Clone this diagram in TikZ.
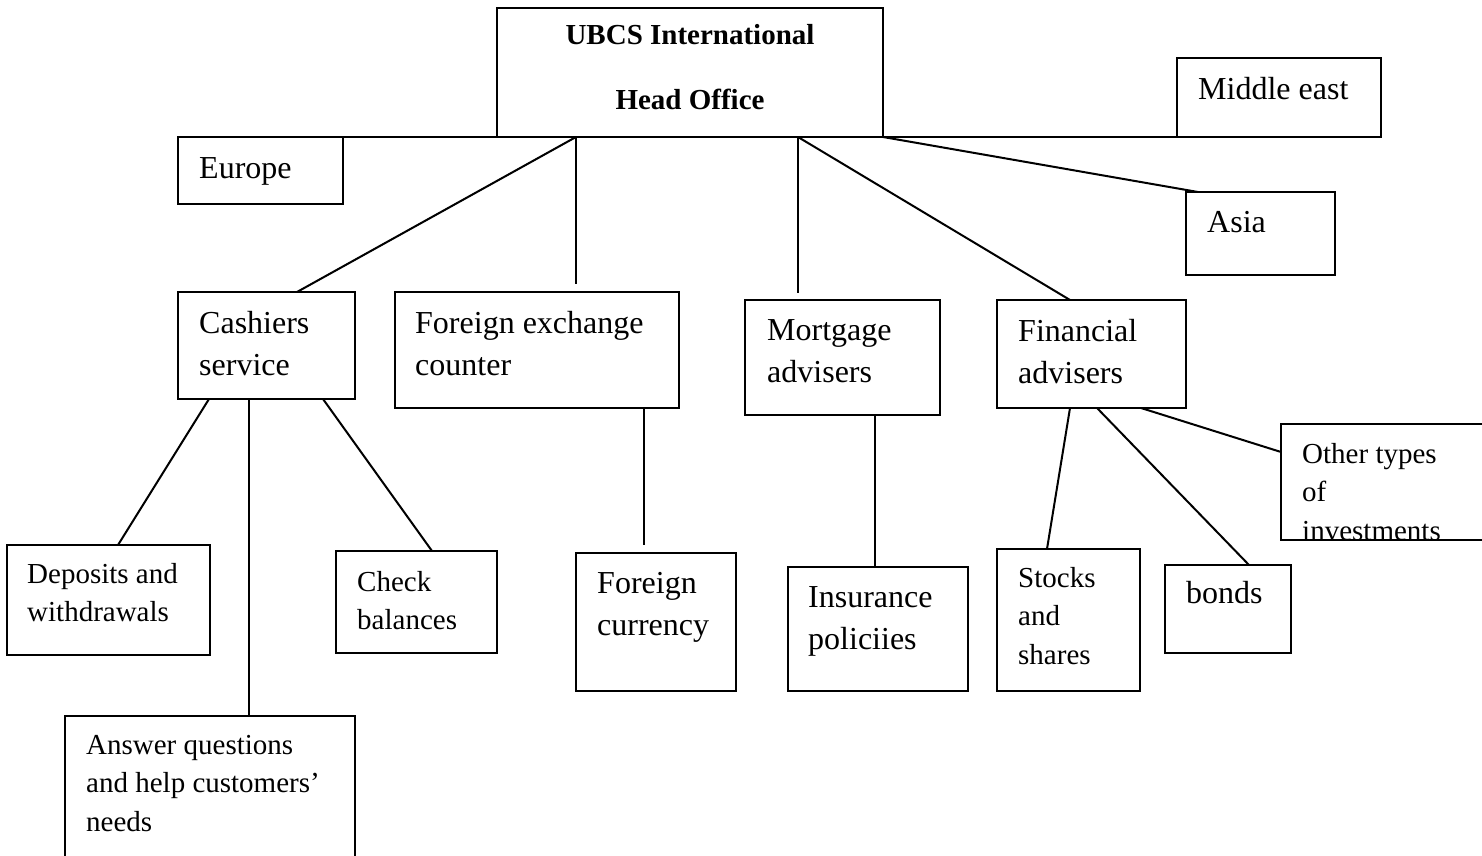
\documentclass[tikz,border=0pt]{standalone}
\usepackage{fontspec}
\setmainfont{Liberation Serif}
\usetikzlibrary{calc}
\newcommand{\mlines}[1]{\begin{tabular}[t]{@{}l@{}}#1\end{tabular}}
\tikzset{
  x=1pt, y=-1pt,
  box/.style={draw, line width=2pt, inner sep=0pt, outer sep=0pt, anchor=north west},
  link/.style={line width=2pt},
  bigtxt/.style={font=\fontsize{32}{42}\selectfont, inner sep=0pt, anchor=base west},
  smalltxt/.style={font=\fontsize{29}{38.5}\selectfont, inner sep=0pt, anchor=base west},
  headtxt/.style={font=\fontsize{29}{36}\selectfont\bfseries, inner sep=0pt, anchor=base},
}
\begin{document}
\begin{tikzpicture}
\useasboundingbox (0,0) rectangle (1482,856);
\clip (0,0) rectangle (1482,856);

% head office and regional offices
\node[box, minimum width=386, minimum height=129] (ho) at (497,8) {};
\node[headtxt] (hot1) at (690,45) {UBCS International};
\node[headtxt] (hot2) at (690,110) {Head Office};

\node[box, minimum width=165, minimum height=67] (eu) at (178,137) {};
\node[bigtxt] (eut) at (199,178) {Europe};
\node[box, minimum width=204, minimum height=79] (me) at (1177,58) {};
\node[bigtxt] (met) at (1198,100) {Middle east};
\node[box, minimum width=149, minimum height=83] (asia) at (1186,192) {};
\node[bigtxt] (asiat) at (1207,232) {Asia};

% departments
\node[box, minimum width=177, minimum height=107] (cash) at (178,292) {};
\node[bigtxt] (casht) at (199,333) {\mlines{Cashiers\\service}};
\node[box, minimum width=284, minimum height=116] (fx) at (395,292) {};
\node[bigtxt] (fxt) at (415,333) {\mlines{Foreign exchange\\counter}};
\node[box, minimum width=195, minimum height=115] (mort) at (745,300) {};
\node[bigtxt] (mortt) at (767,340) {\mlines{Mortgage\\advisers}};
\node[box, minimum width=189, minimum height=108] (fin) at (997,300) {};
\node[bigtxt] (fint) at (1018,341) {\mlines{Financial\\advisers}};

% services
\node[box, minimum width=203, minimum height=110] (dep) at (7,545) {};
\node[smalltxt] (dept) at (27,583) {\mlines{Deposits and\\withdrawals}};
\node[box, minimum width=161, minimum height=102] (chk) at (336,551) {};
\node[smalltxt] (chkt) at (357,591) {\mlines{Check\\balances}};
\node[box, minimum width=290, minimum height=160] (ans) at (65,716) {};
\node[smalltxt] (anst) at (86,754) {\mlines{Answer questions\\and help customers'\\needs}};
\node[box, minimum width=160, minimum height=138] (fcur) at (576,553) {};
\node[bigtxt] (fcurt) at (597,593) {\mlines{Foreign\\currency}};
\node[box, minimum width=180, minimum height=124] (ins) at (788,567) {};
\node[bigtxt] (inst) at (808,607) {\mlines{Insurance\\policiies}};
\node[box, minimum width=143, minimum height=142] (stk) at (997,549) {};
\node[smalltxt] (stkt) at (1018,587) {\mlines{Stocks\\and\\shares}};
\node[box, minimum width=126, minimum height=88] (bnd) at (1165,565) {};
\node[bigtxt] (bndt) at (1186,603) {bonds};
\node[box, minimum width=240, minimum height=116] (oth) at (1281,424) {};
\begin{scope}
  % the last line is cut off by the lower edge of its box
  \clip (oth.north west) rectangle ($(oth.south east)+(0,-1)$);
  \node[smalltxt] (otht) at (1302,463) {\mlines{Other types\\of\\investments}};
\end{scope}

% free ends of the two short stubs
\coordinate (fxstub) at ($(fx.north west)+(181,-8)$);
\coordinate (mortstub) at ($(mort.north west)+(53,-7)$);

% connectors from the head office
\draw[link] (eu.north east) -- (ho.south west);
\draw[link] (ho.south east) -- (me.south west);
\draw[link] ($(ho.south west)+(79,0)$) -- ($(cash.north west)+(119,0)$);
\draw[link] ($(ho.south west)+(79,0)$) -- (fxstub);
\draw[link] ($(ho.south west)+(301,0)$) -- (mortstub);
\draw[link] ($(ho.south west)+(301,0)$) -- ($(fin.north west)+(73,0)$);
\draw[link] (ho.south east) -- ($(asia.north west)+(12,0)$);

% connectors to the services
\draw[link] ($(cash.south west)+(31,0)$) -- ($(dep.north west)+(111,0)$);
\draw[link] ($(cash.south west)+(71,0)$) -- ($(ans.north west)+(184,0)$);
\draw[link] ($(cash.south west)+(145,0)$) -- ($(chk.north west)+(96,0)$);
\draw[link] ($(fx.south west)+(249,0)$) -- ($(fcur.north west)+(68,-8)$);
\draw[link] ($(mort.south west)+(130,0)$) -- ($(ins.north west)+(87,0)$);
\draw[link] ($(fin.south west)+(73,0)$) -- ($(stk.north west)+(50,0)$);
\draw[link] ($(fin.south west)+(100,0)$) -- ($(bnd.north west)+(84,0)$);
\draw[link] ($(fin.south west)+(144,0)$) -- ($(oth.north west)+(0,28)$);
\end{tikzpicture}
\end{document}
